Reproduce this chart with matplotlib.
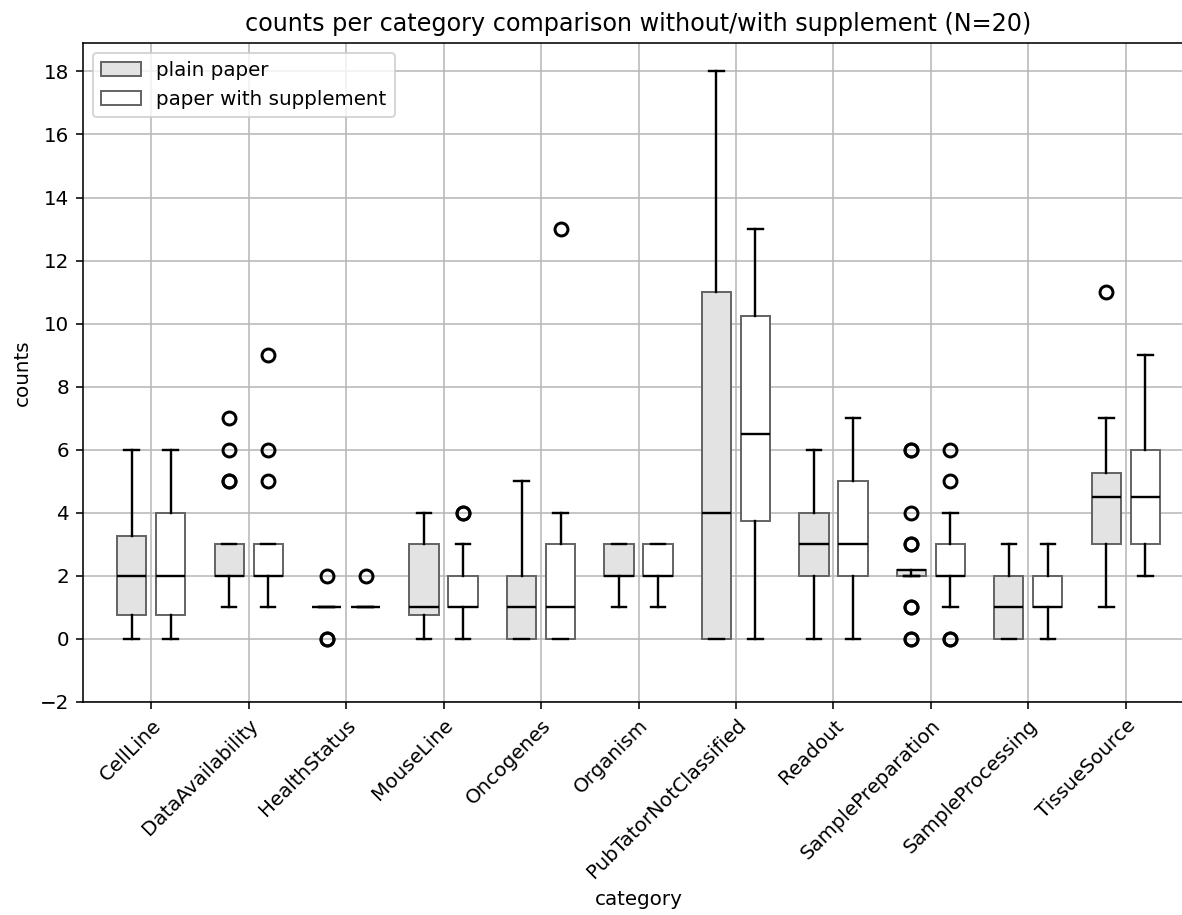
import matplotlib
matplotlib.use("Agg")
import matplotlib.pyplot as plt
from matplotlib.patches import Patch

# categories on the x axis
categories = ["CellLine", "DataAvailability", "HealthStatus", "MouseLine", "Oncogenes",
              "Organism", "PubTatorNotClassified", "Readout", "SamplePreparation",
              "SampleProcessing", "TissueSource"]

# plain paper box stats
plain_med = [2, 2, 1, 1, 1, 2, 4, 3, 2.2, 1, 4.5]
plain_q1 = [0.75, 2, 1, 0.75, 0, 2, 0, 2, 2, 0, 3]
plain_q3 = [3.25, 3, 1, 3, 2, 3, 11, 4, 2.2, 2, 5.25]
plain_lo = [0, 1, 1, 0, 0, 1, 0, 0, 2, 0, 1]
plain_hi = [6, 3, 1, 4, 5, 3, 18, 6, 2, 3, 7]
plain_fliers = [[], [7, 6, 5, 5], [2, 0, 0], [], [], [], [], [],
                [6, 6, 4, 3, 3, 1, 1, 0, 0], [], [11]]

# paper with supplement box stats
supp_med = [2, 2, 1, 1, 1, 2, 6.5, 3, 2, 1, 4.5]
supp_q1 = [0.75, 2, 1, 1, 0, 2, 3.75, 2, 2, 1, 3]
supp_q3 = [4, 3, 1, 2, 3, 3, 10.25, 5, 3, 2, 6]
supp_lo = [0, 1, 1, 0, 0, 1, 0, 0, 1, 0, 2]
supp_hi = [6, 3, 1, 3, 4, 3, 13, 7, 4, 3, 9]
supp_fliers = [[], [9, 6, 5], [2], [4, 4], [13], [], [], [], [6, 5, 0, 0], [], []]


def make_stats(med, q1, q3, lo, hi, fl):
    return [dict(med=m, q1=a, q3=b, whislo=l, whishi=h, fliers=f)
            for m, a, b, l, h, f in zip(med, q1, q3, lo, hi, fl)]


DPI = 143
fig = plt.figure(figsize=(1182 / DPI, 915 / DPI), dpi=DPI)
ax = fig.add_axes([0.0702, 0.2328, 0.940, 0.7202])
ax.grid(True, color="#b8b8b8", linewidth=0.8)

edge = "#666666"
common = dict(
    patch_artist=True, manage_ticks=False,
    whiskerprops=dict(color="black", linewidth=1.2),
    capprops=dict(color="black", linewidth=1.2),
    medianprops=dict(color="black", linewidth=1.2),
    flierprops=dict(marker="o", markerfacecolor="none", markeredgecolor="black",
                    markersize=6.5, markeredgewidth=1.5),
)

x = list(range(len(categories)))
ax.bxp(make_stats(plain_med, plain_q1, plain_q3, plain_lo, plain_hi, plain_fliers),
       positions=[i - 0.2 for i in x], widths=0.3,
       boxprops=dict(facecolor="#e3e3e3", edgecolor=edge, linewidth=1.0), **common)
ax.bxp(make_stats(supp_med, supp_q1, supp_q3, supp_lo, supp_hi, supp_fliers),
       positions=[i + 0.2 for i in x], widths=0.3,
       boxprops=dict(facecolor="white", edgecolor=edge, linewidth=1.0), **common)

ax.set_xlim(-0.7, 10.7)
ax.set_ylim(-2, 18.9)
ax.set_xticks(x)
ax.set_xticklabels(categories, rotation=45, ha="right", rotation_mode="anchor")
ax.set_yticks(range(-2, 19, 2))

ax.set_title("counts per category comparison without/with supplement (N=20)", fontsize=12)
ax.set_xlabel("category")
ax.set_ylabel("counts")

handles = [Patch(facecolor="#e3e3e3", edgecolor=edge, label="plain paper"),
           Patch(facecolor="white", edgecolor=edge, label="paper with supplement")]
ax.legend(handles=handles, loc="upper left")

plt.savefig("out.png", dpi=DPI)
